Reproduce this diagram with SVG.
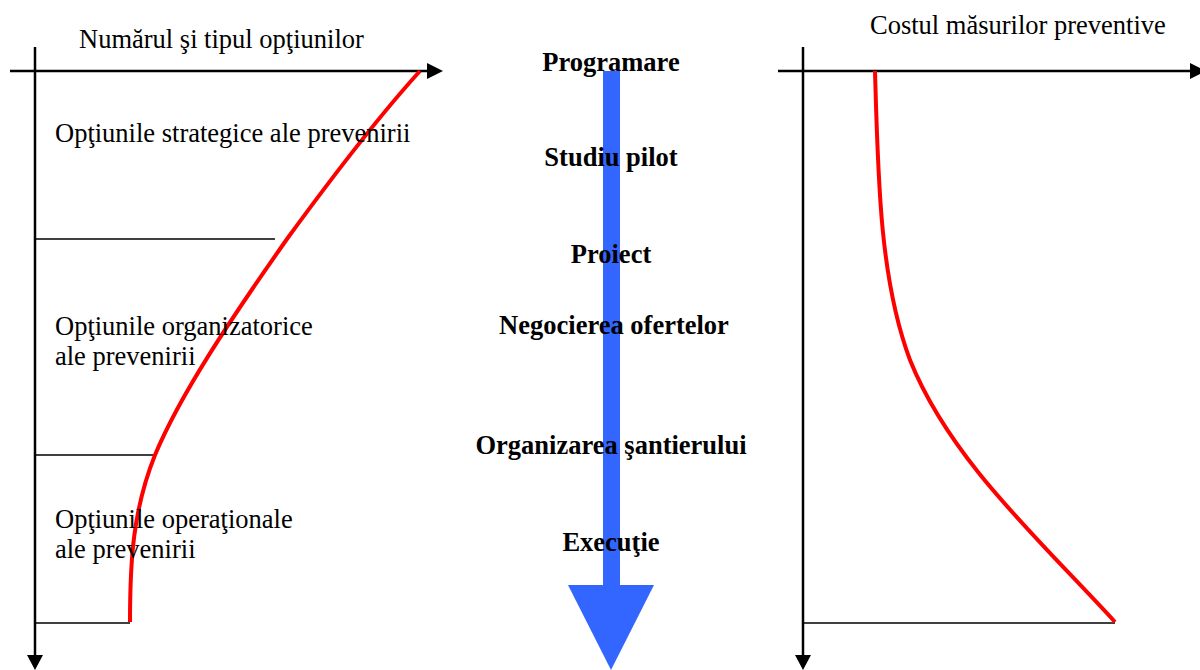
<svg xmlns="http://www.w3.org/2000/svg" width="1200" height="670" viewBox="0 0 1200 670">
<style>
.t{font-family:"Liberation Serif","Times New Roman",serif;font-size:26.5px;fill:#000}
.b{font-family:"Liberation Serif","Times New Roman",serif;font-size:26.5px;font-weight:bold;fill:#000;text-anchor:middle}
.ax{stroke:#000;stroke-width:2.5;fill:none}
.ln{stroke:#000;stroke-width:1.5;fill:none}
.rc{stroke:#ff0000;stroke-width:4;fill:none}
</style>
<g id="connectors">
<line class="ax" x1="10" y1="71" x2="427" y2="71"/>
<path d="M427,63 L443,71 L427,79 Z" fill="#000"/>
<line class="ax" x1="35" y1="47" x2="35" y2="655"/>
<path d="M27,655 L35,670 L43,655 Z" fill="#000"/>
<line class="ln" x1="35" y1="239" x2="275" y2="239"/>
<line class="ln" x1="35" y1="455" x2="155" y2="455"/>
<line class="ln" x1="35" y1="623" x2="130" y2="623"/>
<path class="rc" d="M130,622 C130,560 133,510 155,455 C180,395 230,320 287,239 C330,180 380,115 420,71"/>
<line class="ax" x1="778" y1="71" x2="1192" y2="71"/>
<path d="M1190,63 L1206,71 L1190,79 Z" fill="#000"/>
<line class="ax" x1="803" y1="47" x2="803" y2="655"/>
<path d="M795,655 L803,670 L811,655 Z" fill="#000"/>
<line class="ln" x1="803" y1="623" x2="1115" y2="623"/>
<path class="rc" d="M875,71 C878,180 880,280 910,360 C950,460 1040,540 1115,622"/>
<rect x="603" y="71" width="17" height="515" fill="#3366ff"/>
<path d="M568,585 L654,585 L611,670 Z" fill="#3366ff"/>
</g>
<g id="left-labels">
<text class="t" x="79" y="48">Numărul şi tipul opţiunilor</text>
<text class="t" x="55" y="142">Opţiunile strategice ale prevenirii</text>
<text class="t" x="55" y="335">Opţiunile organizatorice</text>
<text class="t" x="55" y="365">ale prevenirii</text>
<text class="t" x="55" y="528">Opţiunile operaţionale</text>
<text class="t" x="55" y="558">ale prevenirii</text>
</g>
<g id="stages">
<text class="b" x="611" y="71">Programare</text>
<text class="b" x="611" y="166">Studiu pilot</text>
<text class="b" x="611" y="263">Proiect</text>
<text class="b" x="614" y="334">Negocierea ofertelor</text>
<text class="b" x="611" y="454">Organizarea şantierului</text>
<text class="b" x="611" y="551">Execuţie</text>
</g>
<g id="right-labels">
<text class="t" x="870" y="34">Costul măsurilor preventive</text>
</g>
</svg>
